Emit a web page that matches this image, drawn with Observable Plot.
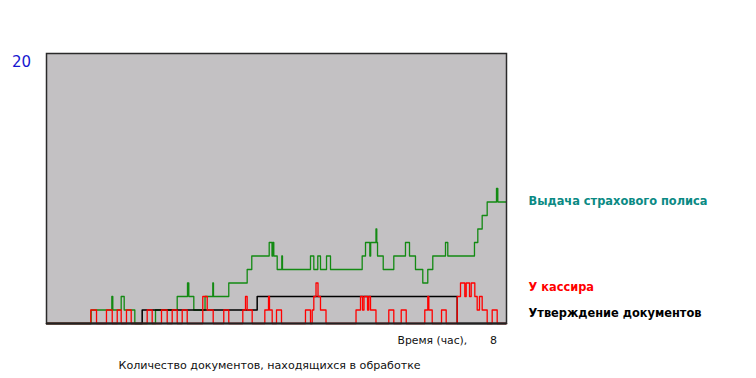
<!DOCTYPE html>
<html>
<head>
<meta charset="utf-8">
<script src="https://cdn.jsdelivr.net/npm/d3@7"></script>
<script src="https://cdn.jsdelivr.net/npm/@observablehq/plot@0.6"></script>
<style>
  html, body { margin: 0; padding: 0; background: #ffffff; }
  #chart { width: 756px; height: 378px; }
</style>
</head>
<body>
<div id="chart"></div>
<script>
// Series: time (hours) of each change and the new count
const policyT = [0, 0.777, 1.136, 1.153, 1.299, 1.351, 1.536, 1.896, 2.273, 2.452, 2.475, 2.562, 2.757, 2.892, 2.904, 3.170, 3.490, 3.570, 3.873, 3.922, 3.934, 3.953, 4.012, 4.092, 4.104, 4.591, 4.649, 4.718, 4.765, 4.870, 4.939, 5.490, 5.548, 5.623, 5.638, 5.730, 5.744, 5.757, 5.856, 6.040, 6.243, 6.313, 6.417, 6.544, 6.631, 6.718, 6.939, 6.979, 7.443, 7.501, 7.577, 7.664, 7.826, 7.849, 8];
const policyV = [0, 1, 2, 1, 2, 1, 0, 1, 2, 3, 2, 1, 2, 3, 2, 3, 4, 5, 6, 5, 6, 5, 4, 5, 4, 5, 4, 5, 4, 5, 4, 5, 6, 5, 6, 7, 6, 5, 4, 5, 6, 5, 4, 3, 4, 5, 6, 5, 6, 7, 8, 9, 10, 9, 9];

const cashierT = [0, 0.770, 0.870, 1.043, 1.143, 1.230, 1.299, 1.391, 1.473, 1.751, 1.838, 2.000, 2.099, 2.186, 2.273, 2.360, 2.447, 2.718, 2.795, 2.899, 3.083, 3.170, 3.414, 3.461, 3.490, 3.577, 3.797, 3.861, 3.878, 3.925, 4.000, 4.087, 4.504, 4.591, 4.621, 4.649, 4.687, 4.722, 4.765, 4.861, 5.383, 5.461, 5.496, 5.522, 5.583, 5.605, 5.635, 5.730, 5.953, 6.040, 6.169, 6.256, 6.579, 6.631, 6.649, 6.708, 6.870, 6.951, 7.143, 7.200, 7.275, 7.299, 7.357, 7.386, 7.449, 7.490, 7.530, 7.577, 7.664, 7.751, 7.838, 8];
const cashierV = [0, 1, 0, 1, 0, 1, 0, 1, 0, 1, 0, 1, 0, 1, 0, 1, 0, 2, 1, 0, 1, 0, 1, 2, 1, 0, 1, 2, 1, 0, 1, 0, 1, 0, 1, 2, 3, 2, 1, 0, 1, 2, 1, 2, 1, 2, 1, 0, 1, 0, 1, 0, 1, 2, 1, 0, 1, 0, 2, 3, 2, 3, 2, 3, 2, 1, 2, 1, 0, 1, 0, 0];

const approvalT = [0, 1.664, 3.664, 7.143, 8];
const approvalV = [0, 1, 2, 0, 0];

const seriesNames = ["Выдача страхового полиса", "У кассира", "Утверждение документов"];
const seriesColors = ["#138a13", "#ff0000", "#000000"];
const labelColors = ["#0a8a84", "#ff0000", "#000000"];

const yTickLabels = ["20"];
const xTickLabels = ["8"];
const xTitle = ["Время (час),"];
const caption = ["Количество документов, находящихся в обработке"];

const toRows = (t, v) => t.map((ti, i) => ({t: ti, v: v[i]}));
const policy = toRows(policyT, policyV);
const cashier = toRows(cashierT, cashierV);
const approval = toRows(approvalT, approvalV);

const font = "DejaVu Sans, Verdana, sans-serif";

const chart = Plot.plot({
  width: 756,
  height: 378,
  marginLeft: 46,
  marginRight: 250,
  marginTop: 53,
  marginBottom: 55,
  style: {background: "#ffffff", fontFamily: font},
  x: {domain: [0, 8], axis: null},
  y: {domain: [0, 20], axis: null},
  marks: [
    Plot.frame({fill: "#c3c1c3", stroke: "none"}),
    Plot.line(policy, {x: "t", y: "v", curve: "step-after", stroke: seriesColors[0], strokeWidth: 1.3}),
    Plot.line(approval, {x: "t", y: "v", curve: "step-after", stroke: seriesColors[2], strokeWidth: 1.5}),
    Plot.line(cashier, {x: "t", y: "v", curve: "step-after", stroke: seriesColors[1], strokeWidth: 1.3}),
    Plot.frame({stroke: "#2a2a2a", strokeWidth: 1.5}),
    Plot.ruleY([0], {stroke: "#222", strokeWidth: 2}),
    // y top label
    Plot.text(yTickLabels, {frameAnchor: "top-left", text: d => d, dx: -25, dy: 3, textAnchor: "middle", fontSize: 15, fill: "#1616d0"}),
    // series labels
    Plot.text([seriesNames[0]], {frameAnchor: "top-right", text: d => d, dx: 22, dy: 143, textAnchor: "start", fontSize: 11.4, fontWeight: "bold", fill: labelColors[0]}),
    Plot.text([seriesNames[1]], {frameAnchor: "top-right", text: d => d, dx: 22, dy: 229, textAnchor: "start", fontSize: 11.4, fontWeight: "bold", fill: labelColors[1]}),
    Plot.text([seriesNames[2]], {frameAnchor: "top-right", text: d => d, dx: 22, dy: 255, textAnchor: "start", fontSize: 11.4, fontWeight: "bold", fill: labelColors[2]}),
    // x title and tick
    Plot.text(xTitle, {frameAnchor: "bottom-left", text: d => d, dx: 351, dy: 20, textAnchor: "start", fontSize: 10.8, fill: "#111"}),
    Plot.text(xTickLabels, {frameAnchor: "bottom-left", text: d => d, dx: 447, dy: 20, textAnchor: "middle", fontSize: 11, fill: "#111"}),
    Plot.text(caption, {frameAnchor: "bottom-left", text: d => d, dx: 72, dy: 45, textAnchor: "start", fontSize: 11.1, fill: "#111"})
  ]
});
document.getElementById("chart").appendChild(chart);
</script>
</body>
</html>
